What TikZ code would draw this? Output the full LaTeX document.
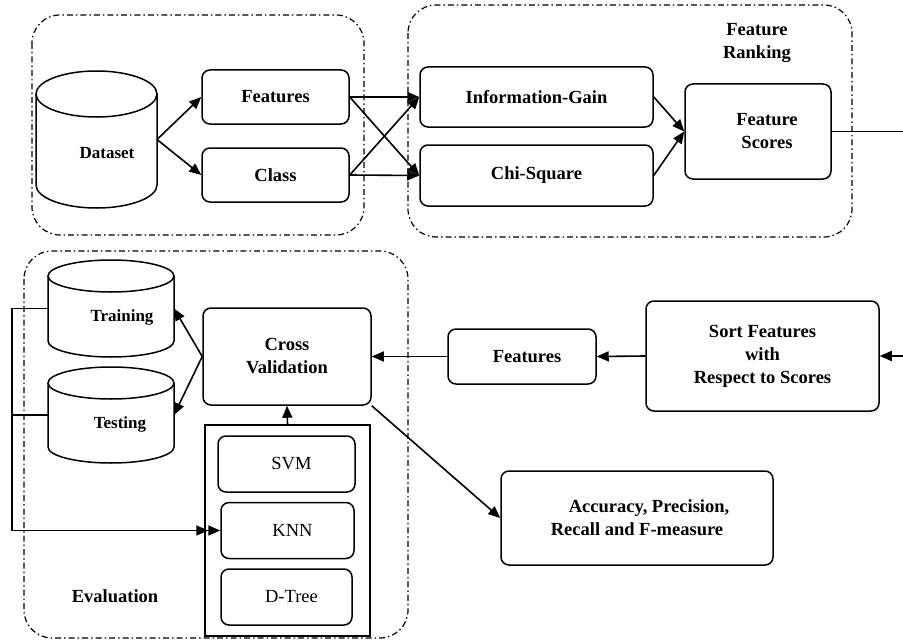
\documentclass[tikz,border=0pt]{standalone}
\usepackage{fontspec}
\setmainfont{Liberation Serif}
\usetikzlibrary{arrows.meta}

% cylinder round a body node: name, x radius, y radius
\newcommand\drawdb[3]{%
  \draw[dbline] (#1.north west) -- (#1.south west)
    arc[start angle=180, end angle=360, x radius=#2, y radius=#3] -- (#1.north east);
  \draw[dbline] (#1.north) ellipse [x radius=#2, y radius=#3];
}

\begin{document}
\begin{tikzpicture}
    [
      x=1pt, y=-1pt,
      font=\fontsize{18.5}{23}\selectfont\bfseries,
      box/.style={draw, rounded corners=8pt, line width=1.5pt, align=center},
      plainbox/.style={box, font=\fontsize{18.5}{23}\selectfont},
      dbbody/.style={inner sep=0pt, outer sep=0pt},
      dbline/.style={line width=1.5pt},
      dbtext/.style={font=\fontsize{17}{20}\selectfont\bfseries},
      group/.style={draw, rounded corners=28pt, line width=1.2pt,
        dash pattern=on 6pt off 3pt on 1.5pt off 3pt},
      link/.style={line width=1.6pt, -{Triangle[length=12pt,width=10pt]}},
      dbllink/.style={line width=1.6pt,
        -{Triangle[length=12pt,width=10pt] Triangle[length=12pt,width=10pt]}}
    ]
    \clip (0,0) rectangle (903,642);

    % dash-dot groups
    \draw[group] (32,15) rectangle (364,235);
    \draw[group] (408,5) rectangle (852,237);
    \draw[group] (24,251) rectangle (408,638);

    % feature extraction
    \node (dataset) [dbbody, minimum width=121pt, minimum height=91pt] at (96.5,139.5) {};
    \drawdb{dataset}{60.5pt}{23pt}
    \node (datasettext) [dbtext] at (107,153) {Dataset};
    \node (features) [box, minimum width=147pt, minimum height=54pt] at (275.5,97) {Features};
    \node (class) [box, minimum width=147pt, minimum height=54pt] at (275.5,175) {Class};

    % feature ranking
    \node (infogain) [box, minimum width=233pt, minimum height=60pt] at (536.5,97) {Information-Gain};
    \node (chisquare) [box, minimum width=233pt, minimum height=61pt] at (536.5,175.5) {Chi-Square};
    \node (scores) [box, minimum width=146pt, minimum height=95pt] at (758,131.5) {\hspace{18pt}Feature\\\hspace{18pt}Scores};
    \node (ranking) [align=center] at (757,43) {Feature\\Ranking};

    % sorting
    \node (sort) [box, minimum width=233pt, minimum height=110pt] at (762.5,356) {Sort Features\\with\\Respect to Scores};
    \node (selected) [box, minimum width=148pt, minimum height=55pt] at (522,356.5) {\hspace{10pt}Features};

    % evaluation
    \node (crossval) [box, minimum width=168pt, minimum height=97pt] at (287,356.5) {Cross\\Validation};
    \node (training) [dbbody, minimum width=126pt, minimum height=65pt] at (111,308.5) {};
    \drawdb{training}{63pt}{16pt}
    \node (trainingtext) [dbtext] at (122,317) {Training};
    \node (testing) [dbbody, minimum width=126pt, minimum height=64pt] at (111,415) {};
    \drawdb{testing}{63pt}{16pt}
    \node (testingtext) [dbtext] at (120,424) {Testing};
    \node (models) [draw, line width=1.5pt, minimum width=165pt, minimum height=211pt] at (287.5,530.5) {};
    \node (svm) [plainbox, minimum width=137pt, minimum height=56pt] at (286.5,464) {\hspace{10pt}SVM};
    \node (knn) [plainbox, minimum width=133pt, minimum height=56pt] at (287.5,530.5) {\hspace{10pt}KNN};
    \node (dtree) [plainbox, minimum width=131pt, minimum height=56pt] at (286.5,597) {\hspace{10pt}D-Tree};
    \node (evaluation) at (115,596) {Evaluation};
    \node (metrics) [box, minimum width=272pt, minimum height=94pt] at (637,518) {\hspace{24pt}Accuracy, Precision,\\Recall and F-measure\hspace{12pt}};

    \coordinate (bus) at (12,308.5);
    \coordinate (edge) at (915,131.5);

    % connectors
    \draw[link] (dataset.east) -- (features.west);
    \draw[link] (dataset.east) -- (class.west);
    \draw[link] (features.east) -- (infogain.west);
    \draw[link] (features.east) -- (chisquare.west);
    \draw[link] (class.east) -- (infogain.west);
    \draw[link] (class.east) -- (chisquare.west);
    \draw[link] (infogain.east) -- (scores.west);
    \draw[link] (chisquare.east) -- (scores.west);
    \draw[link] (scores.east) -- (edge) |- (sort.east);
    \draw[link] (sort.west) -- (selected.east);
    \draw[link] (selected.west) -- (crossval.east);
    \draw[link] (crossval.west) -- (training.east);
    \draw[link] (crossval.west) -- (testing.east);
    \draw[link] (models.north) -- (crossval.south);
    \draw[link] (crossval.south east) -- (metrics.west);
    \draw[dbllink] (training.west) -- (bus) |- (knn.west);
    \draw[line width=1.6pt] (testing.west) -- (testing.west -| bus);
\end{tikzpicture}
\end{document}
